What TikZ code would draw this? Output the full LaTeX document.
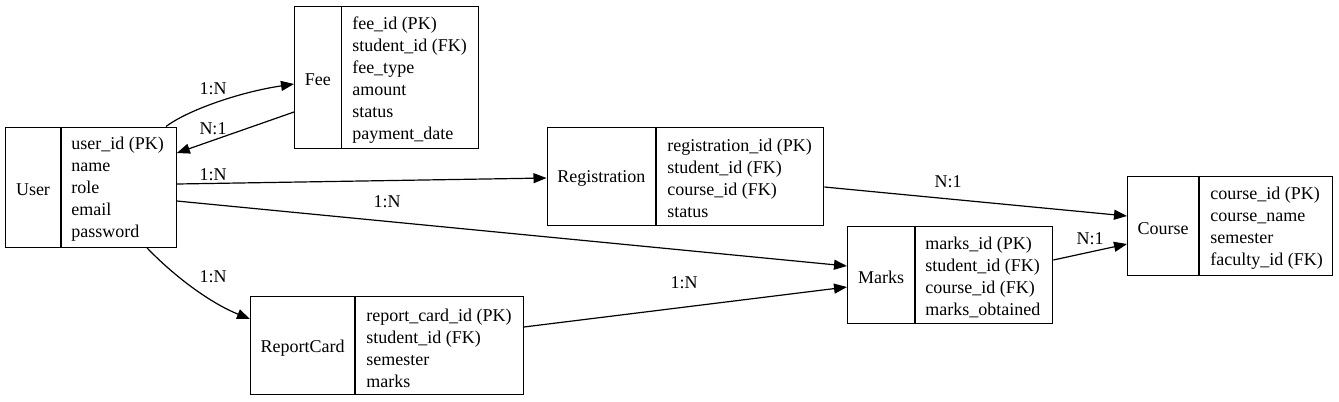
\documentclass[tikz,border=0pt]{standalone}
\usepackage{fontspec}
\setmainfont{Liberation Serif}
\usetikzlibrary{arrows.meta,calc}
\begin{document}
\begin{tikzpicture}[x=0.75pt,y=-0.75pt,
  every node/.style={font=\fontsize{13.5}{16.5}\selectfont},
  rec/.style={draw, line width=1pt, anchor=north west, inner sep=0pt},
  fields/.style={anchor=west, align=left, inner sep=0pt, yshift=-2.25pt},
  title/.style={anchor=center, inner sep=0pt, yshift=-2.25pt},
  elabel/.style={inner sep=0pt},
  conn/.style={line width=0.9pt, -{Triangle[length=9.75pt,width=7.5pt]}}]
\useasboundingbox (0,0) rectangle (1339,401);
\fill[white] (0,0) rectangle (1339,401);
% User
\node[rec, minimum width={170.5*0.75pt}, minimum height={120*0.75pt}] (user) at (5,126.5) {};
\draw[line width=1pt] (61,126.5) -- (61,246.5);
\node[title] (userT) at (33,186.5) {User};
\node[fields] (userF) at (71,186.5) {user\_id (PK)\\name\\role\\email\\password};
% Fee
\node[rec, minimum width={184*0.75pt}, minimum height={142*0.75pt}] (fee) at (294,6) {};
\draw[line width=1pt] (341.5,6) -- (341.5,148);
\node[title] (feeT) at (317.75,77) {Fee};
\node[fields] (feeF) at (352,77) {fee\_id (PK)\\student\_id (FK)\\fee\_type\\amount\\status\\payment\_date};
% Registration
\node[rec, minimum width={276.5*0.75pt}, minimum height={98.5*0.75pt}] (reg) at (546.5,126.5) {};
\draw[line width=1pt] (656,126.5) -- (656,225);
\node[title] (regT) at (601.25,175.75) {Registration};
\node[fields] (regF) at (667,175.75) {registration\_id (PK)\\student\_id (FK)\\course\_id (FK)\\status};
% Course
\node[rec, minimum width={205*0.75pt}, minimum height={99.5*0.75pt}] (course) at (1127,175.5) {};
\draw[line width=1pt] (1199,175.5) -- (1199,275);
\node[title] (courseT) at (1163,225.25) {Course};
\node[fields] (courseF) at (1210,225.25) {course\_id (PK)\\course\_name\\semester\\faculty\_id (FK)};
% Marks
\node[rec, minimum width={205*0.75pt}, minimum height={97.5*0.75pt}] (marks) at (847,225.5) {};
\draw[line width=1pt] (915,225.5) -- (915,323);
\node[title] (marksT) at (881,274.25) {Marks};
\node[fields] (marksF) at (925,274.25) {marks\_id (PK)\\student\_id (FK)\\course\_id (FK)\\marks\_obtained};
% ReportCard
\node[rec, minimum width={272.5*0.75pt}, minimum height={98*0.75pt}] (rc) at (250,296) {};
\draw[line width=1pt] (355,296) -- (355,394);
\node[title] (rcT) at (302.5,345) {ReportCard};
\node[fields] (rcF) at (366,345) {report\_card\_id (PK)\\student\_id (FK)\\semester\\marks};
% Connectors
\draw[conn] ($(user.north west)+(161,0)$) .. controls (188,110) and (240,92) .. ($(fee.north west)+(0,78)$);
\draw[conn] ($(fee.north west)+(0,106)$) -- ($(user.north east)+(0,26.5)$);
\draw[conn] ($(user.north east)+(0,57.5)$) -- ($(reg.north west)+(0,51.5)$);
\draw[conn] ($(user.north east)+(0,74.5)$) -- ($(marks.north west)+(0,40.5)$);
\draw[conn] ($(user.south west)+(142,0)$) .. controls (172,274) and (208,302) .. ($(rc.north west)+(0,23)$);
\draw[conn] ($(rc.north east)+(0,31)$) -- ($(marks.north west)+(0,61.5)$);
\draw[conn] ($(reg.north east)+(0,60.5)$) -- ($(course.north west)+(0,40.5)$);
\draw[conn] ($(marks.north east)+(0,34.5)$) -- ($(course.north west)+(0,68.5)$);
% Edge labels
\node[elabel] (l1) at (213,89) {1:N};
\node[elabel] (l2) at (213,129) {N:1};
\node[elabel] (l3) at (213,175) {1:N};
\node[elabel] (l4) at (387,202) {1:N};
\node[elabel] (l5) at (213,277) {1:N};
\node[elabel] (l6) at (684,283) {1:N};
\node[elabel] (l7) at (948,182) {N:1};
\node[elabel] (l8) at (1090,239) {N:1};
\end{tikzpicture}
\end{document}
